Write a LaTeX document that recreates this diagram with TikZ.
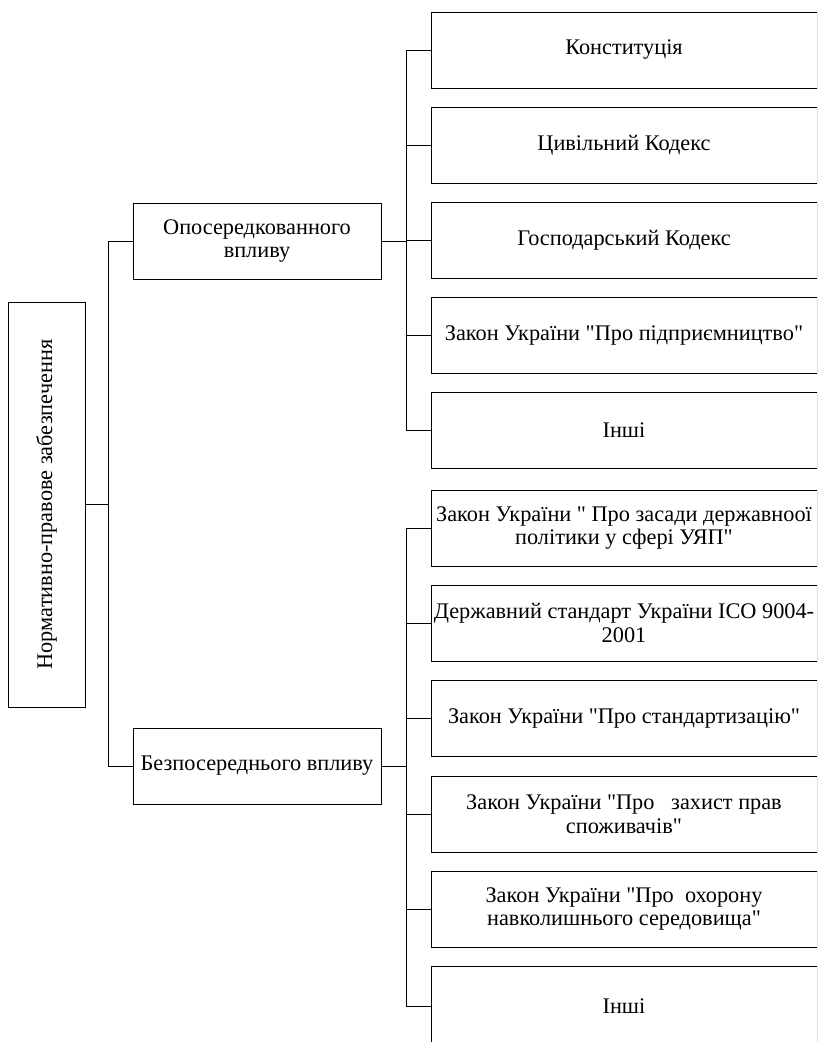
\documentclass[tikz,border=0pt]{standalone}
\usepackage{fontspec}
\newfontfamily\lawfont{Liberation Serif}
\begin{document}
\begin{tikzpicture}[x=1pt,y=-1pt,
  box/.style={draw,line width=1pt,align=center,inner sep=1pt,font=\lawfont\fontsize{22.3}{23.5}\selectfont},
  groupbox/.style={box,minimum width=248pt,minimum height=76pt},
  lawbox/.style={box,minimum width=386pt,minimum height=76pt},
  link/.style={line width=0.9pt}]
\clip (0,0) rectangle (817,1042);
% root
\node[box,rotate=90,minimum width=405pt,minimum height=77pt] (root) at (46.5,504.5) {Нормативно-правове забезпечення};
% groups
\node[groupbox] (opos) at (257,241) {Опосередкованного\\впливу};
\node[groupbox] (bezp) at (257,766) {Безпосереднього впливу};
% indirect
\node[lawbox] (a1) at (624,50) {Конституція};
\node[lawbox] (a2) at (624,145) {Цивільний Кодекс};
\node[lawbox] (a3) at (624,240) {Господарський Кодекс};
\node[lawbox] (a4) at (624,335) {Закон України "Про підприємництво"};
\node[lawbox] (a5) at (624,430) {Інші};
% direct
\node[lawbox] (b1) at (624,528) {Закон України " Про засади державноої\\політики у сфері УЯП"};
\node[lawbox] (b2) at (624,623) {Державний стандарт України ІСО 9004-\\2001};
\node[lawbox] (b3) at (624,718) {Закон України "Про стандартизацію"};
\node[lawbox] (b4) at (624,814) {Закон України "Про \ \ захист прав\\споживачів"};
\node[lawbox] (b5) at (624,909) {Закон України "Про \ охорону\\навколишнього середовища"};
\node[lawbox,minimum height=80pt] (b6) at (624,1006) {Інші};
% links
\draw[link] (root.south) -- ++(23,0) coordinate (rj);
\draw[link] (rj) |- (opos.west);
\draw[link] (rj) |- (bezp.west);
\draw[link] (opos.east) -- ++(25,0) coordinate (oj);
\foreach \n in {a1,a2,a3,a4,a5}
  \draw[link] (oj) |- (\n.west);
\draw[link] (bezp.east) -- ++(25,0) coordinate (bj);
\foreach \n in {b1,b2,b3,b4,b5,b6}
  \draw[link] (bj) |- (\n.west);
\end{tikzpicture}
\end{document}
